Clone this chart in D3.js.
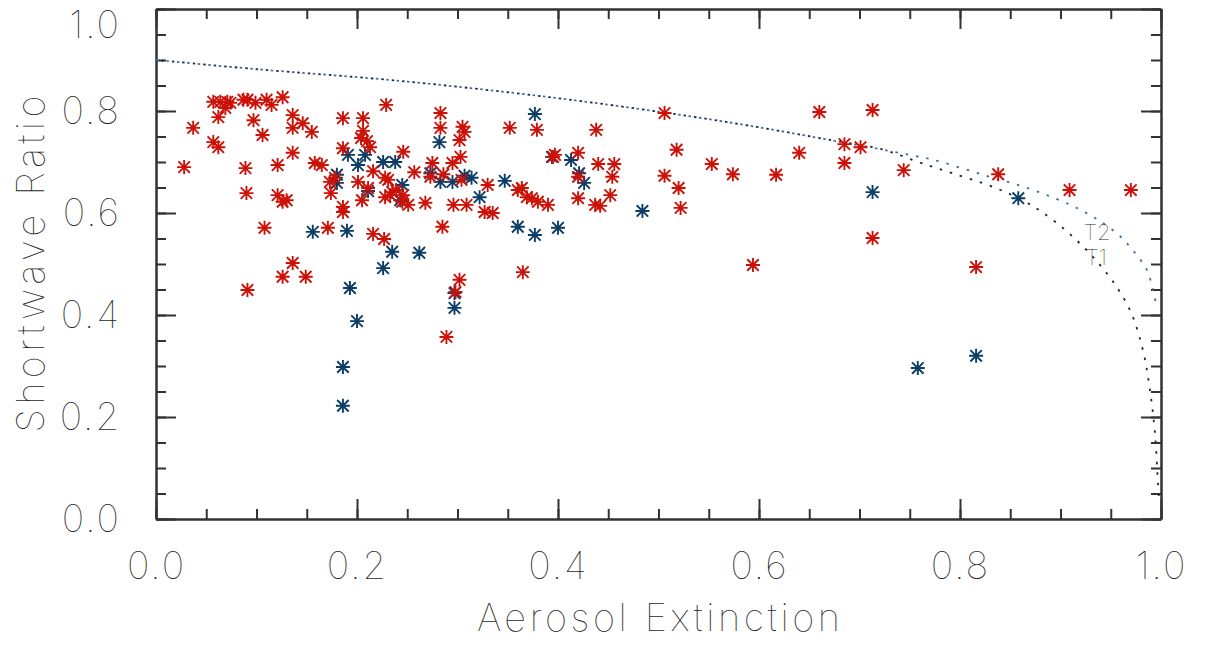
<!DOCTYPE html>
<html>
<head>
<meta charset="utf-8">
<script src="https://cdn.jsdelivr.net/npm/d3@7"></script>
<style>
  html, body { margin: 0; padding: 0; background: #fff; }
  svg text { font-family: Inter, "DejaVu Sans", sans-serif; font-weight: 100; fill: #1e1e1e; }
</style>
</head>
<body>
<div id="chart"></div>
<script>
// values
const redX = [0.057, 0.064, 0.071, 0.074, 0.069, 0.062, 0.087, 0.091, 0.099, 0.110, 0.115, 0.126, 0.097, 0.136, 0.136, 0.146, 0.155, 0.037, 0.106, 0.057,
  0.062, 0.186, 0.136, 0.028, 0.089, 0.121, 0.158, 0.165, 0.186, 0.173, 0.178, 0.174, 0.090, 0.121, 0.126, 0.130, 0.186, 0.186, 0.108, 0.171,
  0.216, 0.227, 0.136, 0.126, 0.149, 0.091, 0.229, 0.206, 0.206, 0.204, 0.210, 0.213, 0.283, 0.283, 0.305, 0.307, 0.302, 0.352, 0.379, 0.438,
  0.506, 0.660, 0.713, 0.518, 0.420, 0.397, 0.640, 0.685, 0.701, 0.685, 0.744, 0.838, 0.909, 0.970, 0.440, 0.456, 0.454, 0.420, 0.553, 0.574,
  0.617, 0.506, 0.520, 0.522, 0.452, 0.420, 0.437, 0.442, 0.713, 0.594, 0.816, 0.365, 0.289, 0.302, 0.298, 0.246, 0.275, 0.295, 0.303, 0.257,
  0.216, 0.228, 0.231, 0.201, 0.211, 0.228, 0.233, 0.239, 0.246, 0.251, 0.245, 0.268, 0.273, 0.286, 0.304, 0.330, 0.327, 0.335, 0.296, 0.309,
  0.285, 0.360, 0.364, 0.369, 0.374, 0.380, 0.390, 0.395, 0.205, 0.235];
const redY = [0.818, 0.818, 0.818, 0.816, 0.806, 0.788, 0.822, 0.822, 0.816, 0.822, 0.812, 0.827, 0.782, 0.792, 0.767, 0.776, 0.759, 0.767, 0.753, 0.739,
  0.729, 0.786, 0.718, 0.690, 0.688, 0.694, 0.698, 0.694, 0.727, 0.661, 0.669, 0.639, 0.639, 0.635, 0.622, 0.625, 0.612, 0.602, 0.571, 0.571,
  0.559, 0.549, 0.502, 0.475, 0.475, 0.449, 0.812, 0.786, 0.761, 0.747, 0.741, 0.729, 0.796, 0.767, 0.769, 0.759, 0.743, 0.767, 0.763, 0.763,
  0.796, 0.798, 0.802, 0.724, 0.718, 0.714, 0.718, 0.735, 0.729, 0.698, 0.684, 0.676, 0.645, 0.645, 0.696, 0.696, 0.671, 0.671, 0.696, 0.676,
  0.675, 0.673, 0.649, 0.610, 0.635, 0.629, 0.616, 0.614, 0.551, 0.498, 0.494, 0.484, 0.357, 0.469, 0.445, 0.720, 0.698, 0.698, 0.710, 0.680,
  0.682, 0.669, 0.665, 0.661, 0.649, 0.631, 0.635, 0.645, 0.635, 0.616, 0.622, 0.620, 0.671, 0.676, 0.665, 0.655, 0.602, 0.600, 0.616, 0.616,
  0.573, 0.645, 0.649, 0.631, 0.629, 0.622, 0.616, 0.710, 0.625, 0.641];

const blueX = [0.191, 0.201, 0.180, 0.180, 0.156, 0.190, 0.193, 0.200, 0.186, 0.186, 0.235, 0.262, 0.226, 0.297, 0.297, 0.208, 0.226, 0.238, 0.282, 0.245,
  0.243, 0.273, 0.283, 0.295, 0.307, 0.314, 0.322, 0.347, 0.377, 0.394, 0.413, 0.421, 0.426, 0.360, 0.377, 0.400, 0.484, 0.713, 0.858, 0.816,
  0.758, 0.211];
const blueY = [0.714, 0.694, 0.675, 0.659, 0.563, 0.565, 0.453, 0.388, 0.298, 0.222, 0.524, 0.522, 0.492, 0.443, 0.414, 0.714, 0.700, 0.700, 0.739, 0.655,
  0.625, 0.678, 0.661, 0.661, 0.673, 0.669, 0.631, 0.663, 0.794, 0.710, 0.704, 0.678, 0.659, 0.573, 0.557, 0.571, 0.604, 0.641, 0.629, 0.320,
  0.296, 0.643];

// model curves T1 and T2
const t1X = [0.000, 0.100, 0.243, 0.392, 0.506, 0.591, 0.674, 0.724, 0.757, 0.780, 0.833, 0.858, 0.880, 0.912, 0.946, 0.969, 0.982, 0.989, 0.994, 0.997, 0.998];
const t1Y = [0.900, 0.882, 0.859, 0.827, 0.797, 0.771, 0.742, 0.724, 0.701, 0.686, 0.651, 0.629, 0.604, 0.554, 0.482, 0.410, 0.331, 0.253, 0.168, 0.070, 0.040];
const t2X = [0.000, 0.100, 0.243, 0.392, 0.506, 0.591, 0.674, 0.724, 0.757, 0.774, 0.823, 0.873, 0.923, 0.956, 0.972, 0.986, 0.992, 0.996];
const t2Y = [0.900, 0.882, 0.859, 0.827, 0.797, 0.771, 0.742, 0.724, 0.711, 0.704, 0.675, 0.645, 0.603, 0.560, 0.527, 0.488, 0.449, 0.413];

const xTicks = [0, 0.2, 0.4, 0.6, 0.8, 1.0];
const yTicks = [0, 0.2, 0.4, 0.6, 0.8, 1.0];
const minorTicks = d3.range(0, 1.0001, 0.05);

const width = 1206, height = 646;
const margin = { top: 9, right: 45, bottom: 127, left: 156 };

const svg = d3.select('#chart').append('svg')
  .attr('width', width)
  .attr('height', height);

const x = d3.scaleLinear().domain([0, 1]).range([margin.left, width - margin.right]);
const y = d3.scaleLinear().domain([0, 1]).range([height - margin.bottom, margin.top]);

const fmt = d3.format('.1f');
const axisColor = '#333';

// axes: ticks point inward on all four sides
function styleAxis(g) {
  g.selectAll('path.domain').attr('stroke', axisColor).attr('stroke-width', 2);
  g.selectAll('.tick line').attr('stroke', axisColor).attr('stroke-width', 2);
}

const axisB = svg.append('g').attr('transform', `translate(0,${y(0)})`);
axisB.call(d3.axisBottom(x).tickValues(minorTicks).tickSize(-10).tickSizeOuter(0).tickFormat(''));
axisB.append('g').call(d3.axisBottom(x).tickValues(xTicks).tickSize(-20).tickSizeOuter(0).tickFormat(fmt).tickPadding(33));
styleAxis(axisB);
axisB.selectAll('text').attr('font-size', 38).attr('fill', '#1e1e1e').style('letter-spacing', '2px');

const axisT = svg.append('g').attr('transform', `translate(0,${y(1)})`);
axisT.call(d3.axisTop(x).tickValues(minorTicks).tickSize(-10).tickSizeOuter(0).tickFormat(''));
axisT.append('g').call(d3.axisTop(x).tickValues(xTicks).tickSize(-20).tickSizeOuter(0).tickFormat(''));
styleAxis(axisT);

const axisL = svg.append('g').attr('transform', `translate(${x(0)},0)`);
axisL.call(d3.axisLeft(y).tickValues(minorTicks).tickSize(-10).tickSizeOuter(0).tickFormat(''));
axisL.append('g').call(d3.axisLeft(y).tickValues(yTicks).tickSize(-20).tickSizeOuter(0).tickFormat(fmt).tickPadding(35));
styleAxis(axisL);
axisL.selectAll('text').attr('font-size', 38).attr('fill', '#1e1e1e').style('letter-spacing', '2px');
// the top label sits a little lower so it stays inside the page
axisL.selectAll('.tick').filter(v => v === 1).select('text').attr('dy', '0.75em');

const axisR = svg.append('g').attr('transform', `translate(${x(1)},0)`);
axisR.call(d3.axisRight(y).tickValues(minorTicks).tickSize(-10).tickSizeOuter(0).tickFormat(''));
axisR.append('g').call(d3.axisRight(y).tickValues(yTicks).tickSize(-20).tickSizeOuter(0).tickFormat(''));
styleAxis(axisR);

// dotted model curves
const line = d3.line().x(p => x(p[0])).y(p => y(p[1])).curve(d3.curveCatmullRom.alpha(0.5));
svg.append('path')
  .datum(d3.zip(t2X, t2Y))
  .attr('d', line)
  .attr('fill', 'none')
  .attr('stroke', '#3a6f96')
  .attr('stroke-width', 1.8)
  .attr('stroke-dasharray', '2.5,8');
svg.append('path')
  .datum(d3.zip(t1X, t1Y))
  .attr('d', line)
  .attr('fill', 'none')
  .attr('stroke', '#1f2a35')
  .attr('stroke-width', 1.8)
  .attr('stroke-dasharray', '2.5,8')
  .attr('stroke-dashoffset', 5);

svg.append('text').attr('x', 1097).attr('y', 240).attr('text-anchor', 'middle')
  .attr('font-size', 22).text('T2');
svg.append('text').attr('x', 1096).attr('y', 265).attr('text-anchor', 'middle')
  .attr('font-size', 22).text('T1');

// asterisk markers
const r = 7;
const dg = r * 0.82;
const starPath = `M0,${-r}V${r}M${-r},0H${r}M${-dg},${-dg}L${dg},${dg}M${-dg},${dg}L${dg},${-dg}`;

function drawStars(xs, ys, color) {
  svg.append('g').selectAll('path')
    .data(d3.zip(xs, ys))
    .join('path')
    .attr('transform', p => `translate(${x(p[0])},${y(p[1])})`)
    .attr('d', starPath)
    .attr('fill', 'none')
    .attr('stroke', color)
    .attr('stroke-width', 1.9);
}
drawStars(blueX, blueY, '#0b3d66');
drawStars(redX, redY, '#cc1208');

// axis titles
svg.append('text')
  .attr('x', (x(0) + x(1)) / 2)
  .attr('y', 631)
  .attr('text-anchor', 'middle')
  .attr('font-size', 38)
  .attr('textLength', 363)
  .attr('lengthAdjust', 'spacing')
  .text('Aerosol Extinction');

svg.append('text')
  .attr('transform', 'translate(44,264) rotate(-90)')
  .attr('text-anchor', 'middle')
  .attr('font-size', 38)
  .attr('textLength', 337)
  .attr('lengthAdjust', 'spacing')
  .text('Shortwave Ratio');
</script>
</body>
</html>
